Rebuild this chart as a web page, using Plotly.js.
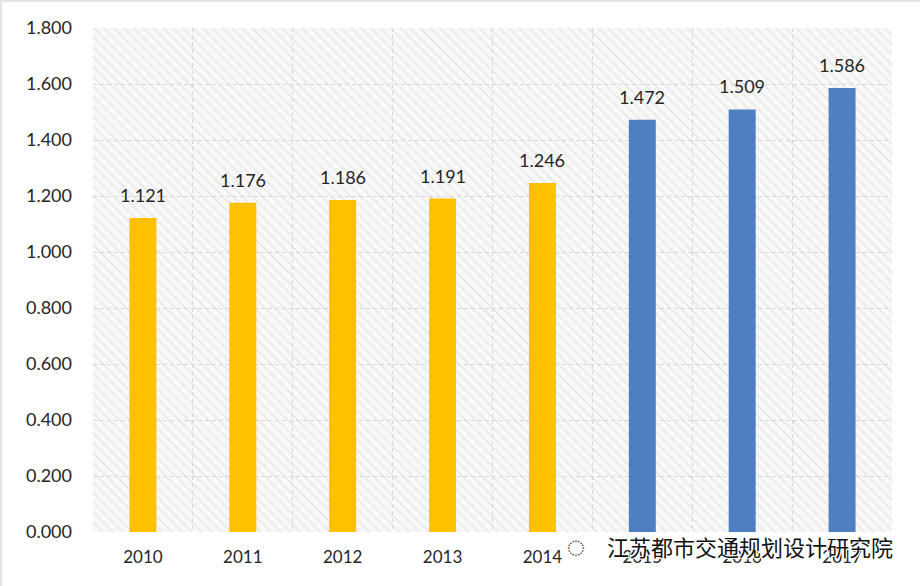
<!DOCTYPE html>
<html>
<head>
<meta charset="utf-8">
<script src="https://cdn.plot.ly/plotly-3.0.1.min.js"></script>
<style>
html,body{margin:0;padding:0;background:#fff;}
#chart{width:920px;height:586px;box-sizing:border-box;border:2px solid #e4e4e4;}
</style>
</head>
<body>
<div id="chart"></div>
<script>
// Data
const yearsA = ['2010','2011','2012','2013','2014'];
const valuesA = [1.121, 1.176, 1.186, 1.191, 1.246];
const yearsB = ['2015','2016','2017'];
const valuesB = [1.472, 1.509, 1.586];
const watermark = '江苏都市交通规划设计研究院';

const allYears = yearsA.concat(yearsB);
const allValues = valuesA.concat(valuesB);

const hatchSvg = '<svg xmlns="http://www.w3.org/2000/svg" width="800" height="504">' +
  '<defs><pattern id="p" width="7" height="7" patternUnits="userSpaceOnUse" patternTransform="rotate(-45)">' +
  '<rect width="7" height="7" fill="#f8f8f8"/><line x1="0" y1="0" x2="0" y2="7" stroke="#e2e2e2" stroke-width="2.3"/>' +
  '</pattern></defs><rect width="800" height="504" fill="url(#p)"/></svg>';
const hatchUri = 'data:image/svg+xml;base64,' + btoa(hatchSvg);

const font = 'Lato, "Open Sans", "Liberation Sans", sans-serif';

const traces = [
  {type:'bar', x:yearsA, y:valuesA, width:0.27, marker:{color:'#FFC000'}, hoverinfo:'x+y'},
  {type:'bar', x:yearsB, y:valuesB, width:0.27, marker:{color:'#4F7FC0'}, hoverinfo:'x+y'}
];

// value labels placed through the category axis (index of each category)
const labelAnn = allYears.map((yr, i) => ({
  x:i, y:allValues[i], xref:'x', yref:'y', text:allValues[i].toFixed(3), showarrow:false,
  yanchor:'bottom', yshift:10, font:{size:18, color:'#262626', family:font}
}));

const layout = {
  width:920, height:586,
  margin:{l:91, r:30, t:26, b:56},
  paper_bgcolor:'#ffffff', plot_bgcolor:'rgba(0,0,0,0)',
  showlegend:false, barmode:'overlay',
  font:{family:font, size:17, color:'#262626'},
  xaxis:{type:'category', categoryorder:'array', categoryarray:allYears,
    range:[-0.5, allYears.length - 0.5],
    tickson:'boundaries', showgrid:true, gridcolor:'#d6d6d6', griddash:'4px,3px', gridwidth:1,
    ticks:'', ticklen:0, showline:false, zeroline:false, ticklabelstandoff:13,
    tickfont:{size:17, color:'#262626', family:font}},
  yaxis:{range:[0,1.8], dtick:0.2, tickformat:'.3f', showgrid:true,
    gridcolor:'#d6d6d6', griddash:'4px,3px', gridwidth:1, zeroline:false, showline:false,
    ticks:'', ticklen:0, ticklabelstandoff:20, tickfont:{size:18, color:'#262626', family:font}},
  images:[{source:hatchUri, xref:'paper', yref:'paper', x:0, y:1, sizex:1, sizey:1,
    sizing:'stretch', layer:'below', xanchor:'left', yanchor:'top'}],
  annotations:labelAnn.concat([
    {xref:'paper', yref:'paper', x:1.004, y:-0.028, xanchor:'right', yanchor:'middle',
     text:watermark, showarrow:false,
     font:{family:'"Noto Sans CJK SC", sans-serif', size:22, color:'#111111',
       shadow:'1px 1px 0 #fff, -1px -1px 0 #fff, 1px -1px 0 #fff, -1px 1px 0 #fff'}},
    {xref:'paper', yref:'paper', x:0.605, y:-0.028, xanchor:'center', yanchor:'middle',
     text:'◌', showarrow:false, font:{size:30, color:'#555'}}
  ])
};

Plotly.newPlot('chart', traces, layout, {displayModeBar:false, staticPlot:true});
</script>
</body>
</html>
